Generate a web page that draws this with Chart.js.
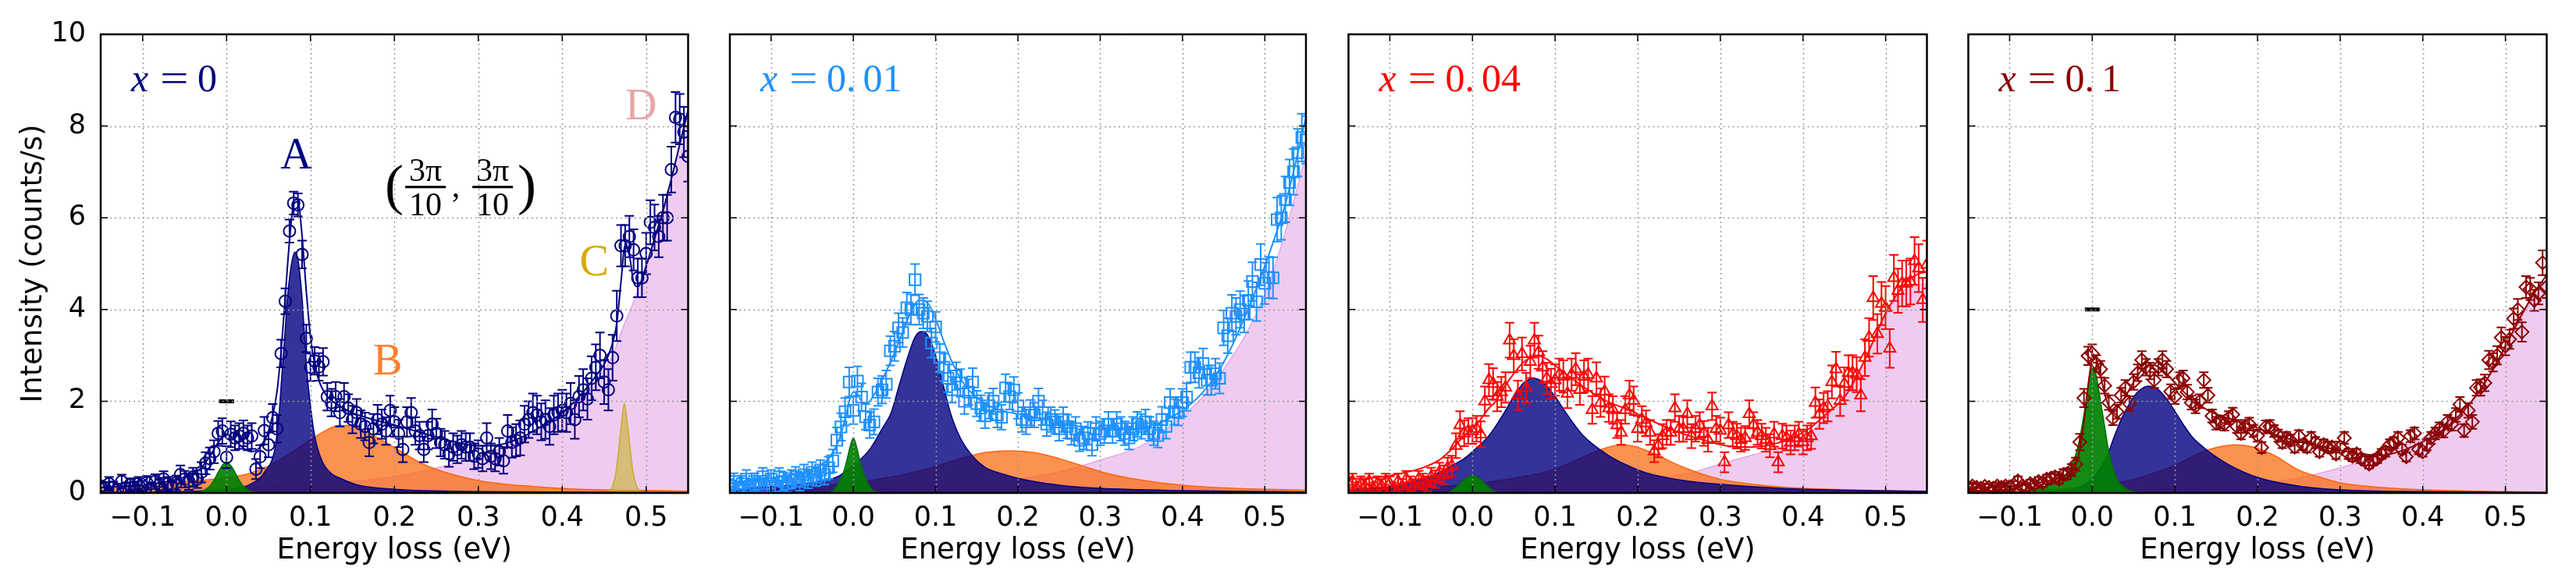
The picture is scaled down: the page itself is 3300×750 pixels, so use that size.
<!DOCTYPE html>
<html>
<head>
<meta charset="utf-8">
<script src="https://cdn.jsdelivr.net/npm/chart.js@4.4.0/dist/chart.umd.min.js"></script>
<style>
html, body { margin: 0; padding: 0; background: #fff; }
#wrap { position: relative; width: 3300px; height: 750px; overflow: hidden; background: #fff; }
#wrap canvas { position: absolute; top: 0; }
</style>
</head>
<body>
<div id="wrap">
    <canvas id="c0"></canvas>
    <canvas id="c1"></canvas>
    <canvas id="c2"></canvas>
    <canvas id="c3"></canvas>
</div>
<script>
// ---- data ----
const xTicks = [-0.1, 0, 0.1, 0.2, 0.3, 0.4, 0.5];
const yTicks = [0, 2, 4, 6, 8, 10];

const panelLabels = ['0', '0.01', '0.04', '0.1'];

const energy = [
    -0.15,-0.145,-0.14,-0.135,-0.13,-0.125,-0.12,-0.115,-0.11,-0.105,
    -0.1,-0.095,-0.09,-0.085,-0.08,-0.075,-0.07,-0.065,-0.06,-0.055,
    -0.05,-0.045,-0.04,-0.035,-0.03,-0.025,-0.02,-0.015,-0.01,-0.005,
    0,0.005,0.01,0.015,0.02,0.025,0.03,0.035,0.04,0.045,
    0.05,0.055,0.06,0.065,0.07,0.075,0.08,0.085,0.09,0.095,
    0.1,0.105,0.11,0.115,0.12,0.125,0.13,0.135,0.14,0.145,
    0.15,0.155,0.16,0.165,0.17,0.175,0.18,0.185,0.19,0.195,
    0.2,0.205,0.21,0.215,0.22,0.225,0.23,0.235,0.24,0.245,
    0.25,0.255,0.26,0.265,0.27,0.275,0.28,0.285,0.29,0.295,
    0.3,0.305,0.31,0.315,0.32,0.325,0.33,0.335,0.34,0.345,
    0.35,0.355,0.36,0.365,0.37,0.375,0.38,0.385,0.39,0.395,
    0.4,0.405,0.41,0.415,0.42,0.425,0.43,0.435,0.44,0.445,
    0.45,0.455,0.46,0.465,0.47,0.475,0.48,0.485,0.49,0.495,
    0.5,0.505,0.51,0.515,0.52,0.525,0.53,0.535,0.54,0.545,0.55
];

// x = 0
const intensity0 = [
    0.15,0.1,0.2,0.12,0.08,0.25,0.1,0.18,0.12,0.2,
    0.15,0.22,0.1,0.25,0.18,0.3,0.2,0.12,0.22,0.4,
    0.3,0.25,0.35,0.3,0.45,0.65,0.75,0.9,1.3,1.35,
    0.78,1.28,1.2,1.24,1.3,1.2,1.24,0.52,0.79,1.36,
    1.05,1.64,1.4,3.04,4.18,5.71,6.32,6.28,5.2,3.37,
    2.74,2.88,2.75,2.86,2.1,1.97,2.1,1.75,2.1,1.85,
    1.6,1.75,1.5,1.45,1.1,1.4,1.6,1.5,1.35,1.8,
    1.55,1.3,0.95,1.55,1.75,1.35,1.25,0.95,1.25,1.5,
    1.3,1.1,1.05,0.85,1.0,0.95,1.05,1.0,1.0,0.8,
    0.85,0.75,1.2,0.8,0.75,0.9,0.7,1.35,1.1,1.15,
    1.2,1.5,1.6,1.75,1.7,1.55,1.6,1.45,1.7,1.75,
    1.8,1.75,1.95,1.6,2.1,2.25,2.05,2.5,2.74,3.0,
    2.42,2.25,2.95,3.86,5.39,5.39,5.59,5.3,4.69,4.69,
    5.22,5.9,5.79,5.59,6.0,6.0,7.05,8.19,8.15,7.87,7.34
];
const error0 = [
    0.12,0.14,0.15,0.13,0.12,0.15,0.13,0.14,0.13,0.15,
    0.14,0.15,0.13,0.16,0.15,0.17,0.15,0.14,0.16,0.2,
    0.18,0.18,0.2,0.19,0.22,0.24,0.24,0.25,0.27,0.28,
    0.24,0.28,0.27,0.28,0.28,0.27,0.28,0.22,0.25,0.3,
    0.27,0.3,0.3,0.3,0.28,0.25,0.25,0.25,0.3,0.3,
    0.3,0.3,0.3,0.3,0.3,0.3,0.32,0.3,0.3,0.3,
    0.3,0.3,0.3,0.3,0.3,0.32,0.32,0.32,0.3,0.32,
    0.32,0.3,0.28,0.32,0.32,0.3,0.3,0.28,0.3,0.32,
    0.32,0.3,0.3,0.28,0.3,0.3,0.3,0.3,0.3,0.28,
    0.3,0.28,0.32,0.28,0.28,0.3,0.28,0.35,0.33,0.35,
    0.38,0.4,0.4,0.42,0.42,0.4,0.42,0.4,0.42,0.42,
    0.45,0.42,0.45,0.42,0.45,0.45,0.45,0.48,0.5,0.5,
    0.48,0.45,0.5,0.55,0.45,0.45,0.45,0.45,0.42,0.42,
    0.45,0.48,0.5,0.45,0.5,0.5,0.5,0.55,0.55,0.55,0.55
];

// x = 0.01
const intensity001 = [
    0.15,0.25,0.1,0.2,0.3,0.15,0.25,0.2,0.35,0.2,
    0.3,0.15,0.35,0.25,0.2,0.3,0.35,0.25,0.4,0.3,
    0.45,0.35,0.5,0.4,0.55,0.7,1.15,1.44,1.77,2.42,
    1.8,2.44,2.09,1.66,1.48,1.55,2.2,2.25,2.37,3.1,
    3.2,3.6,3.5,4.04,4.0,4.65,4.0,3.92,3.85,3.27,
    3.62,2.95,2.74,2.5,2.25,2.55,2.4,2.0,2.2,2.42,
    1.95,1.85,1.68,1.9,2.0,1.7,1.65,2.29,2.1,2.25,
    1.9,1.6,1.55,1.75,1.7,2.0,1.75,1.5,1.6,1.55,
    1.4,1.6,1.45,1.3,1.4,1.15,1.2,1.3,1.05,1.4,
    1.3,1.35,1.5,1.35,1.5,1.4,1.3,1.2,1.4,1.5,
    1.45,1.55,1.4,1.3,1.25,1.6,1.45,1.97,1.77,1.75,
    1.97,2.09,2.74,2.74,2.62,2.82,2.46,2.46,2.6,2.5,
    3.6,3.43,3.92,3.85,4.0,3.9,4.2,4.61,4.17,4.98,
    4.57,4.7,4.69,5.96,6.0,6.4,6.77,7.0,7.42,7.75,7.7
];
const error001 = [
    0.15,0.18,0.15,0.17,0.2,0.15,0.18,0.17,0.2,0.18,
    0.2,0.17,0.2,0.2,0.18,0.2,0.22,0.2,0.22,0.2,
    0.22,0.2,0.22,0.22,0.24,0.25,0.28,0.3,0.3,0.32,
    0.3,0.32,0.3,0.28,0.28,0.28,0.3,0.3,0.3,0.32,
    0.32,0.32,0.32,0.33,0.33,0.34,0.33,0.33,0.33,0.32,
    0.33,0.3,0.3,0.3,0.28,0.3,0.3,0.28,0.28,0.3,
    0.28,0.28,0.27,0.28,0.28,0.27,0.27,0.3,0.28,0.28,
    0.28,0.27,0.27,0.28,0.27,0.28,0.27,0.26,0.27,0.26,
    0.26,0.27,0.26,0.25,0.26,0.24,0.25,0.25,0.24,0.26,
    0.26,0.26,0.27,0.26,0.27,0.26,0.26,0.25,0.26,0.27,
    0.27,0.27,0.26,0.26,0.26,0.28,0.27,0.3,0.28,0.28,
    0.3,0.3,0.33,0.33,0.33,0.33,0.32,0.32,0.33,0.33,
    0.38,0.38,0.4,0.4,0.4,0.4,0.42,0.42,0.42,0.45,
    0.45,0.45,0.45,0.48,0.48,0.5,0.5,0.5,0.52,0.52,0.52
];

// x = 0.04
const intensity004 = [
    0.2,0.25,0.1,0.2,0.15,0.25,0.1,0.2,0.15,0.25,
    0.2,0.1,0.25,0.15,0.3,0.2,0.15,0.3,0.25,0.2,
    0.35,0.3,0.45,0.4,0.55,0.59,1.03,1.48,1.3,1.35,
    1.35,1.4,1.28,2.0,2.46,2.38,2.1,2.2,2.3,3.33,
    2.99,2.13,3.03,2.29,2.86,3.33,3.07,2.74,2.5,2.38,
    2.46,2.58,2.54,2.17,2.58,2.7,2.25,2.54,2.58,1.81,
    2.5,1.97,2.21,1.85,1.81,1.48,1.32,1.81,2.13,2.01,
    1.4,1.6,1.52,1.32,0.91,1.03,1.24,1.32,1.32,1.85,
    1.4,1.4,1.72,1.24,1.4,1.48,1.3,1.16,1.89,1.4,
    1.36,0.67,1.48,1.28,1.24,1.16,1.2,1.72,1.48,1.32,
    1.24,1.16,1.03,1.28,0.67,1.24,1.2,1.1,1.2,1.28,
    1.11,1.2,1.24,1.97,1.72,1.85,1.89,2.42,2.7,2.01,
    2.38,2.62,2.62,2.58,2.13,2.95,3.39,4.25,3.47,4.13,
    4.04,3.15,4.69,4.41,4.57,4.57,4.61,5.06,4.9,4.21,4.98
];
const error004 = [
    0.15,0.17,0.13,0.16,0.15,0.17,0.13,0.16,0.15,0.17,
    0.16,0.13,0.17,0.15,0.18,0.16,0.15,0.18,0.17,0.16,
    0.2,0.19,0.21,0.2,0.22,0.22,0.27,0.3,0.28,0.28,
    0.28,0.28,0.28,0.32,0.35,0.34,0.32,0.33,0.33,0.38,
    0.36,0.32,0.36,0.33,0.35,0.38,0.36,0.35,0.34,0.33,
    0.34,0.35,0.35,0.32,0.35,0.35,0.33,0.35,0.35,0.3,
    0.35,0.31,0.33,0.3,0.3,0.28,0.27,0.3,0.32,0.31,
    0.28,0.29,0.28,0.27,0.24,0.25,0.26,0.27,0.27,0.3,
    0.28,0.28,0.3,0.26,0.28,0.28,0.27,0.26,0.3,0.28,
    0.28,0.22,0.28,0.27,0.27,0.26,0.26,0.3,0.28,0.27,
    0.27,0.26,0.25,0.27,0.22,0.27,0.27,0.26,0.27,0.27,
    0.27,0.27,0.28,0.33,0.32,0.33,0.33,0.36,0.38,0.33,
    0.36,0.38,0.38,0.38,0.35,0.4,0.42,0.48,0.43,0.47,
    0.47,0.42,0.5,0.48,0.5,0.5,0.5,0.52,0.52,0.48,0.52
];

// x = 0.1
const intensity01 = [
    0.12,0.15,0.12,0.1,0.14,0.12,0.1,0.15,0.12,0.15,
    0.14,0.18,0.26,0.15,0.12,0.2,0.18,0.25,0.22,0.3,
    0.32,0.35,0.3,0.4,0.42,0.5,0.63,1.11,2.07,2.99,
    3.04,2.82,2.7,2.34,1.97,1.63,1.77,2.13,2.29,1.95,
    2.42,2.62,2.9,2.74,2.66,2.46,2.74,2.9,2.7,2.21,
    2.1,2.46,2.5,2.2,1.97,1.89,2.0,2.46,2.13,1.68,
    1.52,1.55,1.5,1.64,1.71,1.45,1.3,1.45,1.5,1.35,
    1.25,0.99,1.44,1.45,1.35,1.25,1.1,1.2,1.15,1.0,
    1.24,1.05,1.0,1.2,1.1,0.9,1.05,1.0,1.0,0.85,
    1.0,1.2,0.85,0.8,0.85,0.75,0.7,0.63,0.7,0.75,
    0.85,0.9,1.05,1.1,1.2,0.95,0.79,1.24,1.3,0.95,
    0.9,1.05,1.2,1.3,1.4,1.35,1.55,1.5,1.7,1.93,
    1.36,1.8,1.55,2.29,2.3,2.4,2.9,2.85,3.0,3.39,
    3.2,3.35,3.8,4.0,3.51,4.49,4.45,4.2,4.35,5.02,4.5
];
const error01 = [
    0.07,0.08,0.07,0.06,0.07,0.07,0.06,0.08,0.07,0.08,
    0.07,0.08,0.1,0.08,0.07,0.09,0.08,0.1,0.09,0.1,
    0.1,0.11,0.1,0.12,0.12,0.13,0.14,0.18,0.2,0.2,
    0.2,0.18,0.18,0.17,0.16,0.15,0.15,0.16,0.17,0.16,
    0.17,0.18,0.19,0.18,0.18,0.17,0.18,0.19,0.18,0.16,
    0.16,0.17,0.17,0.16,0.15,0.15,0.15,0.17,0.16,0.14,
    0.14,0.14,0.14,0.14,0.15,0.14,0.13,0.14,0.14,0.13,
    0.13,0.12,0.14,0.14,0.13,0.13,0.12,0.13,0.12,0.12,
    0.13,0.12,0.12,0.13,0.12,0.11,0.12,0.12,0.12,0.11,
    0.12,0.13,0.11,0.11,0.11,0.1,0.1,0.1,0.1,0.1,
    0.11,0.11,0.12,0.12,0.13,0.11,0.1,0.13,0.13,0.11,
    0.11,0.12,0.13,0.13,0.14,0.14,0.15,0.14,0.15,0.16,
    0.14,0.16,0.15,0.17,0.18,0.18,0.2,0.2,0.2,0.22,
    0.2,0.21,0.22,0.23,0.21,0.24,0.24,0.23,0.24,0.27,0.25
];

// fitted total and components, [energy, intensity] pairs
const fit0 = [[-0.15,0.12],[-0.12,0.15],[-0.1,0.18],[-0.08,0.22],[-0.06,0.3],[-0.04,0.42],[-0.03,0.55],[-0.02,0.8],[-0.01,1.1],[0,1.28],[0.01,1.15],[0.02,0.98],[0.03,0.9],[0.04,1.0],[0.05,1.35],[0.06,2.2],[0.065,3.1],[0.07,4.3],[0.075,5.5],[0.08,6.3],[0.085,6.35],[0.09,5.6],[0.095,4.4],[0.1,3.4],[0.105,2.8],[0.11,2.45],[0.12,2.1],[0.13,1.95],[0.15,1.75],[0.175,1.6],[0.2,1.48],[0.225,1.35],[0.25,1.22],[0.275,1.1],[0.3,1.03],[0.325,1.05],[0.35,1.2],[0.375,1.45],[0.4,1.75],[0.42,2.1],[0.44,2.55],[0.455,3.0],[0.465,3.7],[0.47,4.6],[0.475,5.4],[0.48,5.2],[0.485,4.6],[0.49,4.5],[0.5,4.95],[0.51,5.55],[0.52,6.15],[0.53,6.85],[0.54,7.6],[0.55,8.35]];
const elastic0 = [[-0.04,0],[-0.03,0.03],[-0.02,0.15],[-0.015,0.28],[-0.01,0.45],[-0.005,0.6],[0,0.67],[0.005,0.6],[0.01,0.45],[0.015,0.28],[0.02,0.15],[0.03,0.03],[0.04,0]];
const peakA0 = [[-0.15,0.01],[-0.05,0.03],[0,0.08],[0.0275,0.18],[0.045,0.45],[0.058,1.0],[0.062,1.6],[0.066,2.6],[0.07,3.6],[0.0725,4.25],[0.078,5.06],[0.0815,5.25],[0.085,5.1],[0.09,4.25],[0.093,3.4],[0.096,2.6],[0.1,1.9],[0.104,1.35],[0.108,1.0],[0.115,0.65],[0.125,0.42],[0.133,0.34],[0.155,0.18],[0.2,0.08],[0.3,0.03],[0.55,0.01]];
const peakB0 = [[-0.15,0.12],[-0.1,0.18],[-0.05,0.25],[-0.015,0.3],[0.022,0.4],[0.049,0.58],[0.075,0.85],[0.1,1.16],[0.12,1.38],[0.133,1.47],[0.145,1.47],[0.155,1.42],[0.17,1.3],[0.19,1.1],[0.21,0.88],[0.234,0.63],[0.266,0.42],[0.303,0.26],[0.366,0.14],[0.42,0.08],[0.48,0.06],[0.55,0.04]];
const peakC0 = [[0.452,0],[0.456,0.04],[0.46,0.15],[0.464,0.45],[0.467,0.9],[0.47,1.4],[0.474,1.95],[0.478,1.45],[0.481,0.95],[0.484,0.5],[0.488,0.18],[0.492,0.05],[0.496,0]];
const peakD0 = [[-0.15,0.03],[-0.11,0.06],[0,0.1],[0.049,0.14],[0.1,0.2],[0.155,0.26],[0.207,0.38],[0.26,0.59],[0.313,0.87],[0.366,1.32],[0.419,2.05],[0.44,2.45],[0.46,3.0],[0.47,3.5],[0.48,3.95],[0.49,4.4],[0.5,4.9],[0.51,5.5],[0.52,6.1],[0.53,6.8],[0.54,7.6],[0.55,8.4]];

const fit001 = [[-0.15,0.22],[-0.12,0.28],[-0.1,0.33],[-0.08,0.38],[-0.06,0.45],[-0.04,0.6],[-0.03,0.75],[-0.02,1.05],[-0.01,1.6],[-0.005,2.0],[0,2.2],[0.005,2.15],[0.01,2.0],[0.015,1.95],[0.02,2.0],[0.03,2.3],[0.04,2.65],[0.05,3.05],[0.06,3.5],[0.07,3.95],[0.08,4.2],[0.09,4.15],[0.1,3.8],[0.11,3.3],[0.12,2.85],[0.13,2.5],[0.14,2.25],[0.16,1.95],[0.18,1.8],[0.2,1.72],[0.225,1.63],[0.25,1.55],[0.275,1.45],[0.3,1.4],[0.325,1.38],[0.35,1.42],[0.375,1.55],[0.4,1.8],[0.425,2.2],[0.45,2.85],[0.475,3.8],[0.5,4.95],[0.525,6.3],[0.54,7.4],[0.55,8.2]];
const elastic001 = [[-0.035,0],[-0.025,0.04],[-0.018,0.2],[-0.012,0.45],[-0.008,0.7],[-0.004,1.0],[0,1.2],[0.004,1.0],[0.008,0.7],[0.012,0.45],[0.018,0.2],[0.025,0.04],[0.035,0]];
const peakA001 = [[-0.15,0.08],[-0.1,0.13],[-0.05,0.23],[-0.02,0.35],[0,0.6],[0.02,0.95],[0.035,1.4],[0.046,1.75],[0.055,2.3],[0.065,2.9],[0.075,3.4],[0.083,3.52],[0.09,3.45],[0.1,3.0],[0.11,2.3],[0.118,1.75],[0.13,1.2],[0.145,0.8],[0.16,0.56],[0.18,0.42],[0.2,0.32],[0.25,0.17],[0.3,0.1],[0.4,0.05],[0.55,0.02]];
const peakB001 = [[-0.15,0.05],[-0.1,0.08],[-0.05,0.13],[0,0.22],[0.05,0.36],[0.1,0.58],[0.13,0.75],[0.16,0.88],[0.19,0.92],[0.22,0.88],[0.25,0.75],[0.28,0.58],[0.31,0.42],[0.35,0.28],[0.4,0.17],[0.45,0.11],[0.5,0.08],[0.55,0.06]];
const peakD001 = [[-0.15,0.03],[0,0.08],[0.1,0.15],[0.15,0.2],[0.2,0.3],[0.25,0.46],[0.3,0.72],[0.35,1.03],[0.4,1.68],[0.425,2.1],[0.45,2.7],[0.475,3.4],[0.5,4.33],[0.525,5.7],[0.55,7.4]];

const fit004 = [[-0.15,0.3],[-0.12,0.33],[-0.1,0.38],[-0.08,0.45],[-0.06,0.55],[-0.04,0.72],[-0.03,0.87],[-0.02,1.05],[-0.01,1.25],[0,1.4],[0.008,1.56],[0.02,1.85],[0.027,1.97],[0.04,2.35],[0.05,2.6],[0.06,2.82],[0.07,2.95],[0.08,2.99],[0.09,2.92],[0.1,2.78],[0.12,2.5],[0.143,2.21],[0.165,1.98],[0.19,1.81],[0.22,1.55],[0.25,1.32],[0.28,1.15],[0.307,1.03],[0.33,1.0],[0.355,1.03],[0.38,1.15],[0.404,1.36],[0.43,1.75],[0.452,2.13],[0.476,2.95],[0.5,3.92],[0.524,4.57],[0.54,4.78],[0.55,4.82]];
const elastic004 = [[-0.035,0],[-0.025,0.05],[-0.015,0.2],[-0.008,0.32],[0,0.38],[0.008,0.32],[0.015,0.2],[0.025,0.05],[0.035,0]];
const peakA004 = [[-0.15,0.08],[-0.1,0.14],[-0.079,0.22],[-0.054,0.34],[-0.03,0.55],[-0.01,0.75],[0,0.9],[0.02,1.25],[0.035,1.65],[0.05,2.1],[0.062,2.4],[0.074,2.5],[0.085,2.42],[0.1,2.1],[0.115,1.7],[0.134,1.25],[0.162,0.85],[0.185,0.62],[0.21,0.44],[0.26,0.26],[0.307,0.18],[0.4,0.08],[0.55,0.04]];
const peakB004 = [[-0.15,0.05],[-0.05,0.12],[0,0.2],[0.05,0.32],[0.1,0.52],[0.13,0.75],[0.15,0.91],[0.165,1.0],[0.18,1.05],[0.195,1.02],[0.21,0.93],[0.23,0.77],[0.25,0.6],[0.275,0.43],[0.3,0.3],[0.35,0.17],[0.4,0.1],[0.45,0.07],[0.5,0.05],[0.55,0.04]];
const peakD004 = [[-0.15,0.02],[0,0.07],[0.1,0.15],[0.2,0.3],[0.26,0.42],[0.307,0.67],[0.355,0.91],[0.38,1.05],[0.404,1.24],[0.43,1.7],[0.45,2.15],[0.475,2.9],[0.5,3.85],[0.515,4.3],[0.529,4.5],[0.54,4.55],[0.55,4.55]];

const fit01 = [[-0.15,0.1],[-0.12,0.12],[-0.1,0.15],[-0.08,0.18],[-0.06,0.24],[-0.04,0.33],[-0.03,0.42],[-0.02,0.62],[-0.015,0.95],[-0.01,1.55],[-0.005,2.35],[0,2.9],[0.004,2.95],[0.008,2.7],[0.012,2.4],[0.016,2.1],[0.02,1.9],[0.025,1.8],[0.03,1.85],[0.04,2.1],[0.05,2.42],[0.06,2.68],[0.07,2.8],[0.08,2.75],[0.09,2.6],[0.1,2.4],[0.12,2.05],[0.14,1.8],[0.16,1.65],[0.18,1.55],[0.2,1.42],[0.225,1.25],[0.25,1.12],[0.275,1.02],[0.3,0.93],[0.325,0.85],[0.35,0.82],[0.375,0.92],[0.4,1.12],[0.425,1.38],[0.45,1.8],[0.475,2.4],[0.5,3.2],[0.52,3.9],[0.54,4.5],[0.55,4.75]];
const elastic01 = [[-0.1,0],[-0.067,0.1],[-0.036,0.34],[-0.025,0.6],[-0.0175,1.0],[-0.011,1.6],[-0.006,2.2],[0,2.75],[0.005,2.55],[0.01,2.0],[0.015,1.45],[0.019,1.0],[0.025,0.55],[0.03,0.3],[0.04,0.1],[0.05,0.03],[0.07,0]];
const peakA01 = [[-0.15,0.01],[-0.05,0.04],[-0.02,0.1],[0,0.3],[0.01,0.55],[0.019,0.85],[0.025,1.15],[0.035,1.6],[0.045,1.95],[0.055,2.2],[0.068,2.33],[0.08,2.25],[0.09,2.05],[0.1,1.78],[0.11,1.5],[0.121,1.22],[0.133,1.02],[0.145,0.85],[0.168,0.59],[0.2,0.34],[0.25,0.15],[0.3,0.07],[0.4,0.03],[0.55,0.01]];
const peakB01 = [[-0.15,0.03],[-0.05,0.08],[0,0.15],[0.05,0.3],[0.1,0.6],[0.13,0.87],[0.15,0.99],[0.172,1.05],[0.195,1.0],[0.22,0.82],[0.25,0.5],[0.28,0.32],[0.3,0.22],[0.35,0.12],[0.4,0.07],[0.5,0.03],[0.55,0.02]];
const peakD01 = [[-0.15,0.01],[0,0.05],[0.1,0.1],[0.2,0.2],[0.25,0.33],[0.3,0.55],[0.35,0.83],[0.4,1.2],[0.45,1.8],[0.475,2.4],[0.5,3.19],[0.525,4.0],[0.55,4.65]];

// resolution bar (black dash) per panel
const resolutionBarX = [-0.009, 0.009];
const resolutionBarY = [2, null, null, 4];

// peak names in the first panel
const peakNames = ['A', 'B', 'C', 'D'];
const peakNameX = [0.083, 0.192, 0.438, 0.494];
const peakNameY = [7.33, 2.83, 4.99, 8.39];
const momentumX = 0.278;
const momentumY = 6.67;

// ---- styling ----
const panelColors = ['#000080', '#1e90ff', '#ff0000', '#8b0000'];
const markerStyles = ['circle', 'rect', 'triangle', 'rectRot'];
const markerRadius = [7.5, 10, 8.5, 8.5];
const peakNameColors = ['#000080', '#ff7f2a', '#d4aa00', '#e8a6a6'];

const pointSets = [intensity0, intensity001, intensity004, intensity01];
const errorSets = [error0, error001, error004, error01];
const fitSets = [fit0, fit001, fit004, fit01];
const elasticSets = [elastic0, elastic001, elastic004, elastic01];
const peakASets = [peakA0, peakA001, peakA004, peakA01];
const peakBSets = [peakB0, peakB001, peakB004, peakB01];
const peakCSets = [peakC0, null, null, null];
const peakDSets = [peakD0, peakD001, peakD004, peakD01];

const plotLefts = [129, 923, 1717, 2511];
const plotWidth = 762;
const yAxisWidth = 129;
const tickFont = 'DejaVu Sans';

function fmtEnergy(v) {
    return v < 0 ? '\u2212' + Math.abs(v).toFixed(1) : v.toFixed(1);
}

function areaSet(points, fillColor, edgeColor, order) {
    return {
        type: 'line',
        data: points.map(p => ({ x: p[0], y: p[1] })),
        fill: 'origin',
        backgroundColor: fillColor,
        borderColor: edgeColor,
        borderWidth: 1.5,
        pointRadius: 0,
        cubicInterpolationMode: 'monotone',
        order: order
    };
}

const errorBarPlugin = {
    id: 'errorBars',
    beforeDatasetDraw(chart, args) {
        const ds = chart.data.datasets[args.index];
        if (!ds.errors) return;
        const { ctx, chartArea: a, scales: { x, y } } = chart;
        ctx.save();
        ctx.beginPath();
        ctx.rect(a.left, a.top, a.right - a.left, a.bottom - a.top);
        ctx.clip();
        ctx.strokeStyle = ds.pointBorderColor;
        ctx.lineWidth = 2;
        ds.data.forEach((p, k) => {
            const px = x.getPixelForValue(p.x);
            const lo = y.getPixelForValue(p.y - ds.errors[k]);
            const hi = y.getPixelForValue(p.y + ds.errors[k]);
            ctx.beginPath();
            ctx.moveTo(px, lo); ctx.lineTo(px, hi);
            ctx.moveTo(px - 6, lo); ctx.lineTo(px + 6, lo);
            ctx.moveTo(px - 6, hi); ctx.lineTo(px + 6, hi);
            ctx.stroke();
        });
        ctx.restore();
    }
};

function drawPanelLabel(ctx, a, i) {
    const base = a.top + 73;
    const px = a.left + 39;
    ctx.fillStyle = panelColors[i];
    ctx.textAlign = 'left';
    ctx.textBaseline = 'alphabetic';
    ctx.font = 'italic 50px "Liberation Serif"';
    ctx.fillText('x', px, base);
    ctx.font = '50px "Liberation Serif"';
    ctx.save();
    ctx.translate(px + 37, base);
    ctx.scale(1.3, 1);
    ctx.fillText('=', 0, 0);
    ctx.restore();
    const parts = panelLabels[i].split('.');
    let vx = px + 85;
    ctx.fillText(parts[0], vx, base);
    vx += ctx.measureText(parts[0]).width;
    if (parts[1]) {
        ctx.fillText('.', vx, base);
        vx += ctx.measureText('.').width + 9;
        ctx.fillText(parts[1], vx, base);
    }
}

function drawMomentum(ctx, cx, cy) {
    ctx.fillStyle = '#000';
    ctx.strokeStyle = '#000';
    ctx.textAlign = 'center';
    ctx.textBaseline = 'alphabetic';
    ctx.font = '72px "Liberation Serif"';
    ctx.fillText('(', cx - 84, cy + 21);
    ctx.fillText(')', cx + 86, cy + 21);
    ctx.font = '42px "Liberation Serif"';
    [-44, 42].forEach(dx => {
        ctx.fillText('3\u03c0', cx + dx, cy - 8);
        ctx.fillText('10', cx + dx, cy + 36);
        ctx.lineWidth = 3;
        ctx.beginPath();
        ctx.moveTo(cx + dx - 26, cy);
        ctx.lineTo(cx + dx + 26, cy);
        ctx.stroke();
    });
    ctx.fillText(',', cx - 5, cy + 12);
}

const decorPlugin = {
    id: 'decor',
    afterDatasetsDraw(chart, args, opts) {
        const i = opts.panel;
        const { ctx, chartArea: a, scales: { x, y } } = chart;
        // dotted grid on top of the fills
        ctx.save();
        ctx.strokeStyle = '#9a9a9a';
        ctx.lineWidth = 1.5;
        ctx.setLineDash([2, 4]);
        xTicks.forEach(v => {
            const px = Math.round(x.getPixelForValue(v)) + 0.5;
            ctx.beginPath(); ctx.moveTo(px, a.top); ctx.lineTo(px, a.bottom); ctx.stroke();
        });
        yTicks.forEach(v => {
            const py = Math.round(y.getPixelForValue(v)) + 0.5;
            ctx.beginPath(); ctx.moveTo(a.left, py); ctx.lineTo(a.right, py); ctx.stroke();
        });
        ctx.restore();

        ctx.save();
        drawPanelLabel(ctx, a, i);
        if (i === 0) {
            ctx.font = '56px "Liberation Serif"';
            ctx.textAlign = 'center';
            ctx.textBaseline = 'middle';
            peakNames.forEach((n, k) => {
                ctx.fillStyle = peakNameColors[k];
                ctx.fillText(n, x.getPixelForValue(peakNameX[k]), y.getPixelForValue(peakNameY[k]));
            });
            drawMomentum(ctx, x.getPixelForValue(momentumX), y.getPixelForValue(momentumY));
        }
        ctx.restore();
    },
    afterDraw(chart) {
        const { ctx, chartArea: a, scales: { x, y } } = chart;
        ctx.save();
        ctx.strokeStyle = '#000';
        ctx.lineWidth = 1.5;
        xTicks.forEach(v => {
            const px = x.getPixelForValue(v);
            ctx.beginPath();
            ctx.moveTo(px, a.bottom); ctx.lineTo(px, a.bottom - 9);
            ctx.moveTo(px, a.top); ctx.lineTo(px, a.top + 9);
            ctx.stroke();
        });
        yTicks.forEach(v => {
            const py = y.getPixelForValue(v);
            ctx.beginPath();
            ctx.moveTo(a.left, py); ctx.lineTo(a.left + 9, py);
            ctx.moveTo(a.right, py); ctx.lineTo(a.right - 9, py);
            ctx.stroke();
        });
        ctx.lineWidth = 2.5;
        ctx.strokeRect(a.left, a.top, a.right - a.left, a.bottom - a.top);
        ctx.restore();
    }
};

function buildPanel(i) {
    const first = i === 0;
    const canvas = document.getElementById('c' + i);
    canvas.width = first ? yAxisWidth + plotWidth : plotWidth;
    canvas.height = 750;
    canvas.style.left = (first ? 0 : plotLefts[i]) + 'px';

    const color = panelColors[i];
    const datasets = [];
    // higher order is painted first (further back)
    datasets.push(areaSet(peakDSets[i], 'rgba(214,120,214,0.38)', 'rgba(214,120,214,0.55)', 10));
    datasets.push(areaSet(peakBSets[i], 'rgba(250,110,20,0.75)', '#ff6410', 9));
    if (peakCSets[i]) datasets.push(areaSet(peakCSets[i], 'rgba(200,178,40,0.6)', 'rgba(190,168,20,0.85)', 8));
    datasets.push(areaSet(peakASets[i], 'rgba(0,0,128,0.8)', '#000080', 7));
    datasets.push(areaSet(elasticSets[i], 'rgba(0,128,0,0.92)', 'rgba(0,110,0,1)', 6));
    datasets.push({
        type: 'line',
        data: fitSets[i].map(p => ({ x: p[0], y: p[1] })),
        borderColor: color,
        borderWidth: 2,
        pointRadius: 0,
        fill: false,
        cubicInterpolationMode: 'monotone',
        order: 5
    });
    if (resolutionBarY[i] !== null) {
        datasets.push({
            type: 'line',
            data: resolutionBarX.map(v => ({ x: v, y: resolutionBarY[i] })),
            borderColor: '#000',
            borderWidth: 5,
            pointRadius: 0,
            fill: false,
            order: 4
        });
    }
    datasets.push({
        type: 'line',
        data: energy.map((e, k) => ({ x: e, y: pointSets[i][k] })),
        errors: errorSets[i],
        showLine: false,
        pointStyle: markerStyles[i],
        pointRadius: markerRadius[i],
        pointBorderColor: color,
        pointBackgroundColor: 'rgba(0,0,0,0)',
        pointBorderWidth: 2,
        order: 1
    });

    new Chart(canvas, {
        type: 'line',
        data: { datasets },
        plugins: [errorBarPlugin, decorPlugin],
        options: {
            responsive: false,
            animation: false,
            devicePixelRatio: 1,
            layout: { padding: { top: 44, left: 0, right: 0, bottom: 0 } },
            plugins: {
                legend: { display: false },
                tooltip: { enabled: false },
                decor: { panel: i }
            },
            scales: {
                x: {
                    type: 'linear',
                    min: -0.15,
                    max: 0.55,
                    afterBuildTicks: s => { s.ticks = xTicks.map(v => ({ value: v })); },
                    afterFit: s => { s.height = 118; },
                    grid: { display: false },
                    border: { display: false },
                    ticks: {
                        autoSkip: false,
                        maxRotation: 0,
                        padding: 4,
                        color: '#000',
                        font: { family: tickFont, size: 35 },
                        callback: v => fmtEnergy(v)
                    },
                    title: {
                        display: true,
                        text: 'Energy loss (eV)',
                        color: '#000',
                        font: { family: tickFont, size: 37 },
                        padding: { top: 0, bottom: 21 }
                    }
                },
                y: {
                    type: 'linear',
                    min: 0,
                    max: 10,
                    display: first,
                    afterBuildTicks: s => { s.ticks = yTicks.map(v => ({ value: v })); },
                    afterFit: s => { s.width = first ? yAxisWidth : 0; },
                    grid: { display: false },
                    border: { display: false },
                    ticks: {
                        padding: 11,
                        color: '#000',
                        font: { family: tickFont, size: 35 },
                        callback: v => String(v)
                    },
                    title: {
                        display: first,
                        text: 'Intensity (counts/s)',
                        color: '#000',
                        font: { family: tickFont, size: 37 },
                        padding: { top: 21, bottom: 0 }
                    }
                }
            }
        }
    });
}

[0, 1, 2, 3].forEach(buildPanel);
</script>
</body>
</html>
